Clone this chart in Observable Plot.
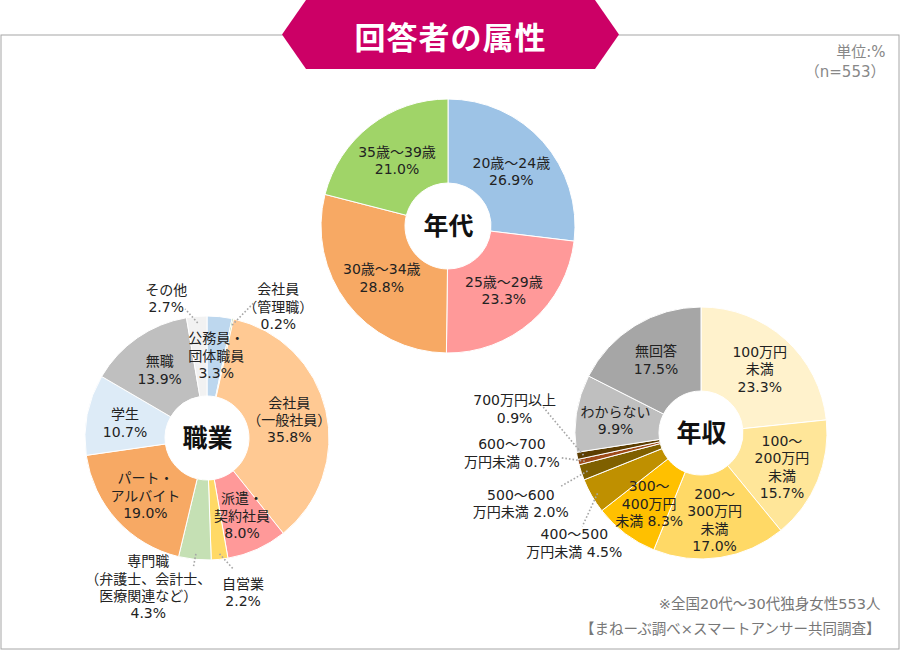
<!DOCTYPE html>
<html><head><meta charset="utf-8">
<script src="https://cdn.jsdelivr.net/npm/d3@7"></script>
<script src="https://cdn.jsdelivr.net/npm/@observablehq/plot@0.6"></script>
<style>
body{margin:0;background:#fff;font-family:"Noto Sans CJK JP","Noto Sans",sans-serif;}
#wrap{position:relative;width:900px;height:650px;overflow:hidden;}
#banner{position:absolute;left:282px;top:0;width:337px;height:69px;background:#CC0066;
clip-path:polygon(24px 0,calc(100% - 24px) 0,100% 50%,calc(100% - 24px) 100%,24px 100%,0 50%);
color:#fff;font-weight:bold;font-size:31px;display:flex;align-items:center;justify-content:center;letter-spacing:1px;padding-top:2px;box-sizing:border-box;}
</style></head>
<body><div id="wrap"><div id="chart"></div><div id="banner">回答者の属性</div></div>
<script>
// ---- data ----
const ageCategories = ["20歳〜24歳", "25歳〜29歳", "30歳〜34歳", "35歳〜39歳"];
const ageLabels = ["20歳〜24歳", "25歳〜29歳", "30歳〜34歳", "35歳〜39歳"];
const ageValues = [26.9, 23.3, 28.8, 21.0];

const jobCategories = ["公務員・団体職員", "会社員（管理職）", "会社員（一般社員）", "派遣・契約社員", "自営業",
  "専門職（弁護士、会計士、医療関連など）", "パート・アルバイト", "学生", "無職", "その他"];
const jobLabels = ["公務員・\n団体職員", "会社員\n（管理職）", "会社員\n（一般社員）", "派遣・\n契約社員", "自営業",
  "専門職\n（弁護士、会計士、\n医療関連など）", "パート・\nアルバイト", "学生", "無職", "その他"];
const jobValues = [3.3, 0.2, 35.8, 8.0, 2.2, 4.3, 19.0, 10.7, 13.9, 2.7];

const incomeCategories = ["100万円未満", "100〜200万円未満", "200〜300万円未満", "300〜400万円未満", "400〜500万円未満",
  "500〜600万円未満", "600〜700万円未満", "700万円以上", "わからない", "無回答"];
const incomeLabels = ["100万円\n未満", "100〜\n200万円\n未満", "200〜\n300万円\n未満", "300〜\n400万円\n未満", "400〜500\n万円未満",
  "500〜600\n万円未満", "600〜700\n万円未満", "700万円以上", "わからない", "無回答"];
const incomeValues = [23.3, 15.7, 17.0, 8.3, 4.5, 2.0, 0.7, 0.9, 9.9, 17.5];

// ---- styles / layout ----
const ageColors = ["#9DC3E6", "#FF9999", "#F7A964", "#A0D468"];
const jobColors = ["#BDD7EE", "#A9D18E", "#FFC993", "#FF9999", "#FFD966", "#C5E0B4", "#F7A964", "#DDEBF7", "#BFBFBF", "#F2F2F2"];
const incomeColors = ["#FFF2CC", "#FFE699", "#FFD966", "#FFC000", "#BF9000", "#7F6000", "#9E4A18", "#5C3D00", "#BFBFBF", "#A6A6A6"];
const incomeInline = new Set(["300〜400万円未満", "400〜500万円未満", "500〜600万円未満", "600〜700万円未満"]);

// leader-line/label offsets (px) from the slice's outer edge point, for small slices
const outerLabels = {
  "会社員（管理職）": {ex: 20, ey: -16, lx: 45, ly: -13},
  "自営業": {ex: 13, ey: 9, lx: 23, ly: 32},
  "専門職（弁護士、会計士、医療関連など）": {ex: -2, ey: 8, lx: -47, ly: 27},
  "その他": {ex: -12, ey: -8, lx: -31, ly: -19},
  "400〜500万円未満": {ex: -10, ey: 30, lx: -18, ly: 46},
  "500〜600万円未満": {ex: -22, ey: 14, lx: -61, ly: 30},
  "600〜700万円未満": {ex: -19, ey: -5, lx: -67, ly: -10},
  "700万円以上": {ex: -35, ey: -50, lx: -63, ly: -48}
};

const charts = [
  {title: "年代", cx: 448, cy: 226, r: 127, r0: 43, rl: 84,
   cats: ageCategories, labels: ageLabels, values: ageValues, colors: ageColors},
  {title: "職業", cx: 207, cy: 438, r: 122, r0: 42, rl: 84,
   cats: jobCategories, labels: jobLabels, values: jobValues, colors: jobColors},
  {title: "年収", cx: 701, cy: 433, r: 126, r0: 42, rl: 87,
   cats: incomeCategories, labels: incomeLabels, values: incomeValues, colors: incomeColors}
];

const pie = d3.pie().sort(null).startAngle(0).endAngle(2 * Math.PI);
const polar = (c, a, rad) => [c.cx + rad * Math.sin(a), c.cy - rad * Math.cos(a)];

const labelData = [], leaderData = [];
for (const c of charts) {
  c.arcs = pie(c.values).map((a, i) => ({...a, color: c.colors[i], cat: c.cats[i]}));
  c.arcs.forEach((a, i) => {
    const mid = (a.startAngle + a.endAngle) / 2;
    const val = c.values[i].toFixed(1) + "%";
    const sep = incomeInline.has(c.cats[i]) ? " " : "\n";
    const text = c.labels[i] + sep + val;
    const o = outerLabels[c.cats[i]];
    if (o) {
      const [sx, sy] = polar(c, mid, c.r);
      const [ix, iy] = polar(c, mid, c.r - 6);
      leaderData.push({x1: ix, y1: iy, x2: sx + o.ex, y2: sy + o.ey});
      labelData.push({x: sx + o.lx, y: sy + o.ly, text});
    } else {
      const [x, y] = polar(c, mid, c.rl);
      labelData.push({x, y, text});
    }
  });
}

function donutMark(c) {
  return (index, scales) => {
    const cx = scales.x(c.cx), cy = scales.y(c.cy);
    const k = Math.abs(scales.x(c.cx + 1) - scales.x(c.cx));
    const arc = d3.arc().innerRadius(c.r0 * k).outerRadius(c.r * k);
    const g = d3.create("svg:g").attr("transform", `translate(${cx},${cy})`);
    g.selectAll("path").data(c.arcs).join("path")
      .attr("d", arc).attr("fill", d => d.color)
      .attr("stroke", "#fff").attr("stroke-width", 1).attr("stroke-linejoin", "round");
    return g.node();
  };
}

const plot = Plot.plot({
  width: 900, height: 650, margin: 0,
  x: {domain: [0, 900], range: [0, 900], axis: null},
  y: {domain: [0, 650], range: [0, 650], axis: null},
  style: {fontFamily: '"DejaVu Sans", "Noto Sans CJK JP", sans-serif', background: "#fff"},
  marks: [
    Plot.frame({stroke: "#a6a6a6", insetTop: 34.5, insetLeft: 0.5, insetRight: 1.5, insetBottom: 1.5}),
    ...charts.map(donutMark),
    Plot.link(leaderData, {x1: "x1", y1: "y1", x2: "x2", y2: "y2", stroke: "#a6a6a6", strokeWidth: 1.6, strokeDasharray: "1.6,2"}),
    Plot.text(labelData, {x: "x", y: "y", text: "text", fontSize: 14, fill: "#222", lineHeight: 1.24}),
    Plot.text(charts, {x: "cx", y: "cy", text: "title", fontSize: 25, fontWeight: "bold", fill: "#111", fontFamily: '"Noto Sans CJK JP", sans-serif'}),
    Plot.text(["単位:%\n（n=553）"], {frameAnchor: "top-right", dx: -15, dy: 42, textAnchor: "end", lineAnchor: "top", fontSize: 15, fill: "#888", lineHeight: 1.35}),
    Plot.text(["※全国20代〜30代独身女性553人\n【まねーぶ調べ×スマートアンサー共同調査】"], {frameAnchor: "bottom-right", dx: -20, dy: -17, textAnchor: "end", lineAnchor: "bottom", fontSize: 14.5, fill: "#777", lineHeight: 1.7})
  ]
});
document.getElementById("chart").appendChild(plot);
</script>
</body></html>
